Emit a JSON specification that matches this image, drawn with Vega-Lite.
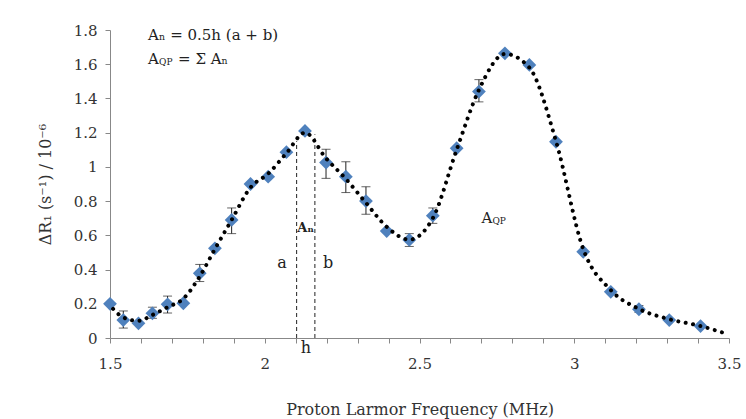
{
  "$schema": "https://vega.github.io/schema/vega-lite/v6.json",
  "width": 619,
  "height": 308,
  "autosize": {"type": "none"},
  "padding": {"left": 110, "top": 30, "right": 17, "bottom": 81},
  "background": "white",
  "config": {
    "view": {"stroke": null},
    "font": "DejaVu Serif",
    "axis": {
      "grid": false,
      "domainColor": "#888888",
      "tickColor": "#888888",
      "tickSize": 5,
      "labelOverlap": false,
      "labelFont": "DejaVu Serif",
      "labelFontSize": 15,
      "labelColor": "#333333",
      "titleFont": "DejaVu Serif",
      "titleFontWeight": "normal",
      "titleColor": "#333333"
    }
  },
  "datasets": {
    "pts": [
      {"x": 1.5, "y": 0.2},
      {"x": 1.543, "y": 0.105},
      {"x": 1.592, "y": 0.086},
      {"x": 1.637, "y": 0.144},
      {"x": 1.686, "y": 0.197},
      {"x": 1.737, "y": 0.203},
      {"x": 1.79, "y": 0.378},
      {"x": 1.839, "y": 0.524},
      {"x": 1.893, "y": 0.69},
      {"x": 1.954, "y": 0.9},
      {"x": 2.011, "y": 0.943},
      {"x": 2.07, "y": 1.086},
      {"x": 2.13, "y": 1.21},
      {"x": 2.198, "y": 1.025},
      {"x": 2.262, "y": 0.943},
      {"x": 2.327, "y": 0.8},
      {"x": 2.394, "y": 0.625},
      {"x": 2.467, "y": 0.573},
      {"x": 2.543, "y": 0.715},
      {"x": 2.62, "y": 1.109},
      {"x": 2.692, "y": 1.44},
      {"x": 2.776, "y": 1.664},
      {"x": 2.855, "y": 1.596},
      {"x": 2.941, "y": 1.147},
      {"x": 3.029, "y": 0.504},
      {"x": 3.118, "y": 0.27},
      {"x": 3.209, "y": 0.168},
      {"x": 3.307, "y": 0.105},
      {"x": 3.408, "y": 0.07}
    ],
    "err": [
      {"x": 1.543, "lo": 0.058, "hi": 0.158},
      {"x": 1.637, "lo": 0.115, "hi": 0.18},
      {"x": 1.686, "lo": 0.146, "hi": 0.245},
      {"x": 1.79, "lo": 0.33, "hi": 0.43},
      {"x": 1.893, "lo": 0.61, "hi": 0.76},
      {"x": 2.198, "lo": 0.933, "hi": 1.103},
      {"x": 2.262, "lo": 0.85, "hi": 1.03},
      {"x": 2.327, "lo": 0.723, "hi": 0.884},
      {"x": 2.467, "lo": 0.535, "hi": 0.61},
      {"x": 2.543, "lo": 0.67, "hi": 0.76},
      {"x": 2.692, "lo": 1.38, "hi": 1.51},
      {"x": 3.209, "lo": 0.15, "hi": 0.19}
    ],
    "fit": [
      {"x": 1.51, "y": 0.17},
      {"x": 1.543, "y": 0.12},
      {"x": 1.592, "y": 0.1},
      {"x": 1.637, "y": 0.135},
      {"x": 1.686, "y": 0.18},
      {"x": 1.737, "y": 0.23},
      {"x": 1.79, "y": 0.36},
      {"x": 1.839, "y": 0.52},
      {"x": 1.893, "y": 0.69},
      {"x": 1.954, "y": 0.88},
      {"x": 2.011, "y": 0.96},
      {"x": 2.07, "y": 1.08},
      {"x": 2.13, "y": 1.2},
      {"x": 2.198, "y": 1.05},
      {"x": 2.262, "y": 0.93},
      {"x": 2.327, "y": 0.79},
      {"x": 2.394, "y": 0.65},
      {"x": 2.467, "y": 0.575},
      {"x": 2.543, "y": 0.7},
      {"x": 2.62, "y": 1.1},
      {"x": 2.692, "y": 1.45},
      {"x": 2.776, "y": 1.66},
      {"x": 2.855, "y": 1.58},
      {"x": 2.941, "y": 1.15},
      {"x": 3.029, "y": 0.52},
      {"x": 3.118, "y": 0.28},
      {"x": 3.209, "y": 0.17},
      {"x": 3.307, "y": 0.11},
      {"x": 3.408, "y": 0.07},
      {"x": 3.5, "y": 0.02}
    ],
    "strips": [
      {"x": 2.103, "y": 0, "y2": 1.15},
      {"x": 2.162, "y": 0, "y2": 1.19}
    ]
  },
  "encoding": {
    "x": {"type": "quantitative", "scale": {"domain": [1.5, 3.5], "nice": false},
      "axis": {
        "title": "Proton Larmor Frequency (MHz)",
        "titleFontSize": 16,
        "titlePadding": 30,
        "tickCount": 20,
        "format": "~g",
        "labelExpr": "indexof(['1.5','2','2.5','3','3.5'], datum.label) >= 0 ? datum.label : ''",
        "labelPadding": 13,
        "labelFlush": false,
        "labelOverlap": false,
        "labelSeparation": 0
      }},
    "y": {"type": "quantitative", "scale": {"domain": [0, 1.8], "nice": false},
      "axis": {
        "title": "ΔR₁ (s⁻¹) / 10⁻⁶",
        "titleFontSize": 16,
        "titlePadding": 20,
        "tickCount": 9,
        "format": "~g",
        "labelOverlap": false,
        "labelSeparation": 0,
        "labelPadding": 8
      }}
  },
  "layer": [
    {
      "data": {"name": "strips"},
      "mark": {"type": "rule", "color": "#222222", "strokeWidth": 1, "strokeDash": [4, 3]},
      "encoding": {
        "x": {"field": "x", "type": "quantitative"},
        "y": {"field": "y", "type": "quantitative"},
        "y2": {"field": "y2"}
      }
    },
    {
      "data": {"name": "err"},
      "mark": {"type": "rule", "color": "#222222", "strokeWidth": 1},
      "encoding": {
        "x": {"field": "x", "type": "quantitative"},
        "y": {"field": "lo", "type": "quantitative"},
        "y2": {"field": "hi"}
      }
    },
    {
      "data": {"name": "err"},
      "mark": {"type": "tick", "color": "#222222", "orient": "horizontal", "size": 9, "thickness": 1},
      "encoding": {
        "x": {"field": "x", "type": "quantitative"},
        "y": {"field": "lo", "type": "quantitative"}
      }
    },
    {
      "data": {"name": "err"},
      "mark": {"type": "tick", "color": "#222222", "orient": "horizontal", "size": 9, "thickness": 1},
      "encoding": {
        "x": {"field": "x", "type": "quantitative"},
        "y": {"field": "hi", "type": "quantitative"}
      }
    },
    {
      "data": {"name": "pts"},
      "mark": {"type": "point", "shape": "diamond", "filled": true, "color": "#4F81BD", "size": 190, "opacity": 1},
      "encoding": {
        "x": {"field": "x", "type": "quantitative"},
        "y": {"field": "y", "type": "quantitative"}
      }
    },
    {
      "data": {"name": "fit"},
      "mark": {"type": "line", "interpolate": "monotone", "color": "black", "strokeWidth": 4, "strokeCap": "round", "strokeDash": [0.01, 7.5]},
      "encoding": {
        "x": {"field": "x", "type": "quantitative"},
        "y": {"field": "y", "type": "quantitative"}
      }
    },
    {
      "data": {"values": [
        {"x": 1.623, "y": 1.77, "t": "Aₙ = 0.5h (a + b)"},
        {"x": 1.623, "y": 1.63, "t": "A"}
      ]},
      "mark": {"type": "text", "align": "left", "baseline": "middle", "fontSize": 15, "color": "#222222", "font": "DejaVu Serif"},
      "encoding": {
        "x": {"field": "x", "type": "quantitative"},
        "y": {"field": "y", "type": "quantitative"},
        "text": {"field": "t"}
      }
    },
    {
      "data": {"values": [
        {"x": 1.623, "y": 1.63, "t": "QP"}
      ]},
      "mark": {"type": "text", "align": "left", "baseline": "middle", "fontSize": 9, "dx": 11, "dy": 3, "color": "#222222", "font": "DejaVu Serif"},
      "encoding": {
        "x": {"field": "x", "type": "quantitative"},
        "y": {"field": "y", "type": "quantitative"},
        "text": {"field": "t"}
      }
    },
    {
      "data": {"values": [
        {"x": 1.623, "y": 1.63, "t": "= Σ Aₙ"}
      ]},
      "mark": {"type": "text", "align": "left", "baseline": "middle", "fontSize": 15, "dx": 30, "color": "#222222", "font": "DejaVu Serif"},
      "encoding": {
        "x": {"field": "x", "type": "quantitative"},
        "y": {"field": "y", "type": "quantitative"},
        "text": {"field": "t"}
      }
    },
    {
      "data": {"values": [
        {"x": 2.056, "y": 0.44, "t": "a"},
        {"x": 2.205, "y": 0.44, "t": "b"},
        {"x": 2.133, "y": -0.06, "t": "h"}
      ]},
      "mark": {"type": "text", "align": "center", "baseline": "middle", "fontSize": 16, "color": "#222222", "font": "DejaVu Serif"},
      "encoding": {
        "x": {"field": "x", "type": "quantitative"},
        "y": {"field": "y", "type": "quantitative"},
        "text": {"field": "t"}
      }
    },
    {
      "data": {"values": [
        {"x": 2.132, "y": 0.645, "t": "Aₙ"}
      ]},
      "mark": {"type": "text", "align": "center", "baseline": "middle", "fontSize": 13, "fontWeight": "bold", "color": "#222222", "font": "DejaVu Serif"},
      "encoding": {
        "x": {"field": "x", "type": "quantitative"},
        "y": {"field": "y", "type": "quantitative"},
        "text": {"field": "t"}
      }
    },
    {
      "data": {"values": [
        {"x": 2.7, "y": 0.7, "t": "A"}
      ]},
      "mark": {"type": "text", "align": "left", "baseline": "middle", "fontSize": 15, "color": "#222222", "font": "DejaVu Serif"},
      "encoding": {
        "x": {"field": "x", "type": "quantitative"},
        "y": {"field": "y", "type": "quantitative"},
        "text": {"field": "t"}
      }
    },
    {
      "data": {"values": [
        {"x": 2.7, "y": 0.7, "t": "QP"}
      ]},
      "mark": {"type": "text", "align": "left", "baseline": "middle", "fontSize": 9, "dx": 11, "dy": 3, "color": "#222222", "font": "DejaVu Serif"},
      "encoding": {
        "x": {"field": "x", "type": "quantitative"},
        "y": {"field": "y", "type": "quantitative"},
        "text": {"field": "t"}
      }
    }
  ]
}
